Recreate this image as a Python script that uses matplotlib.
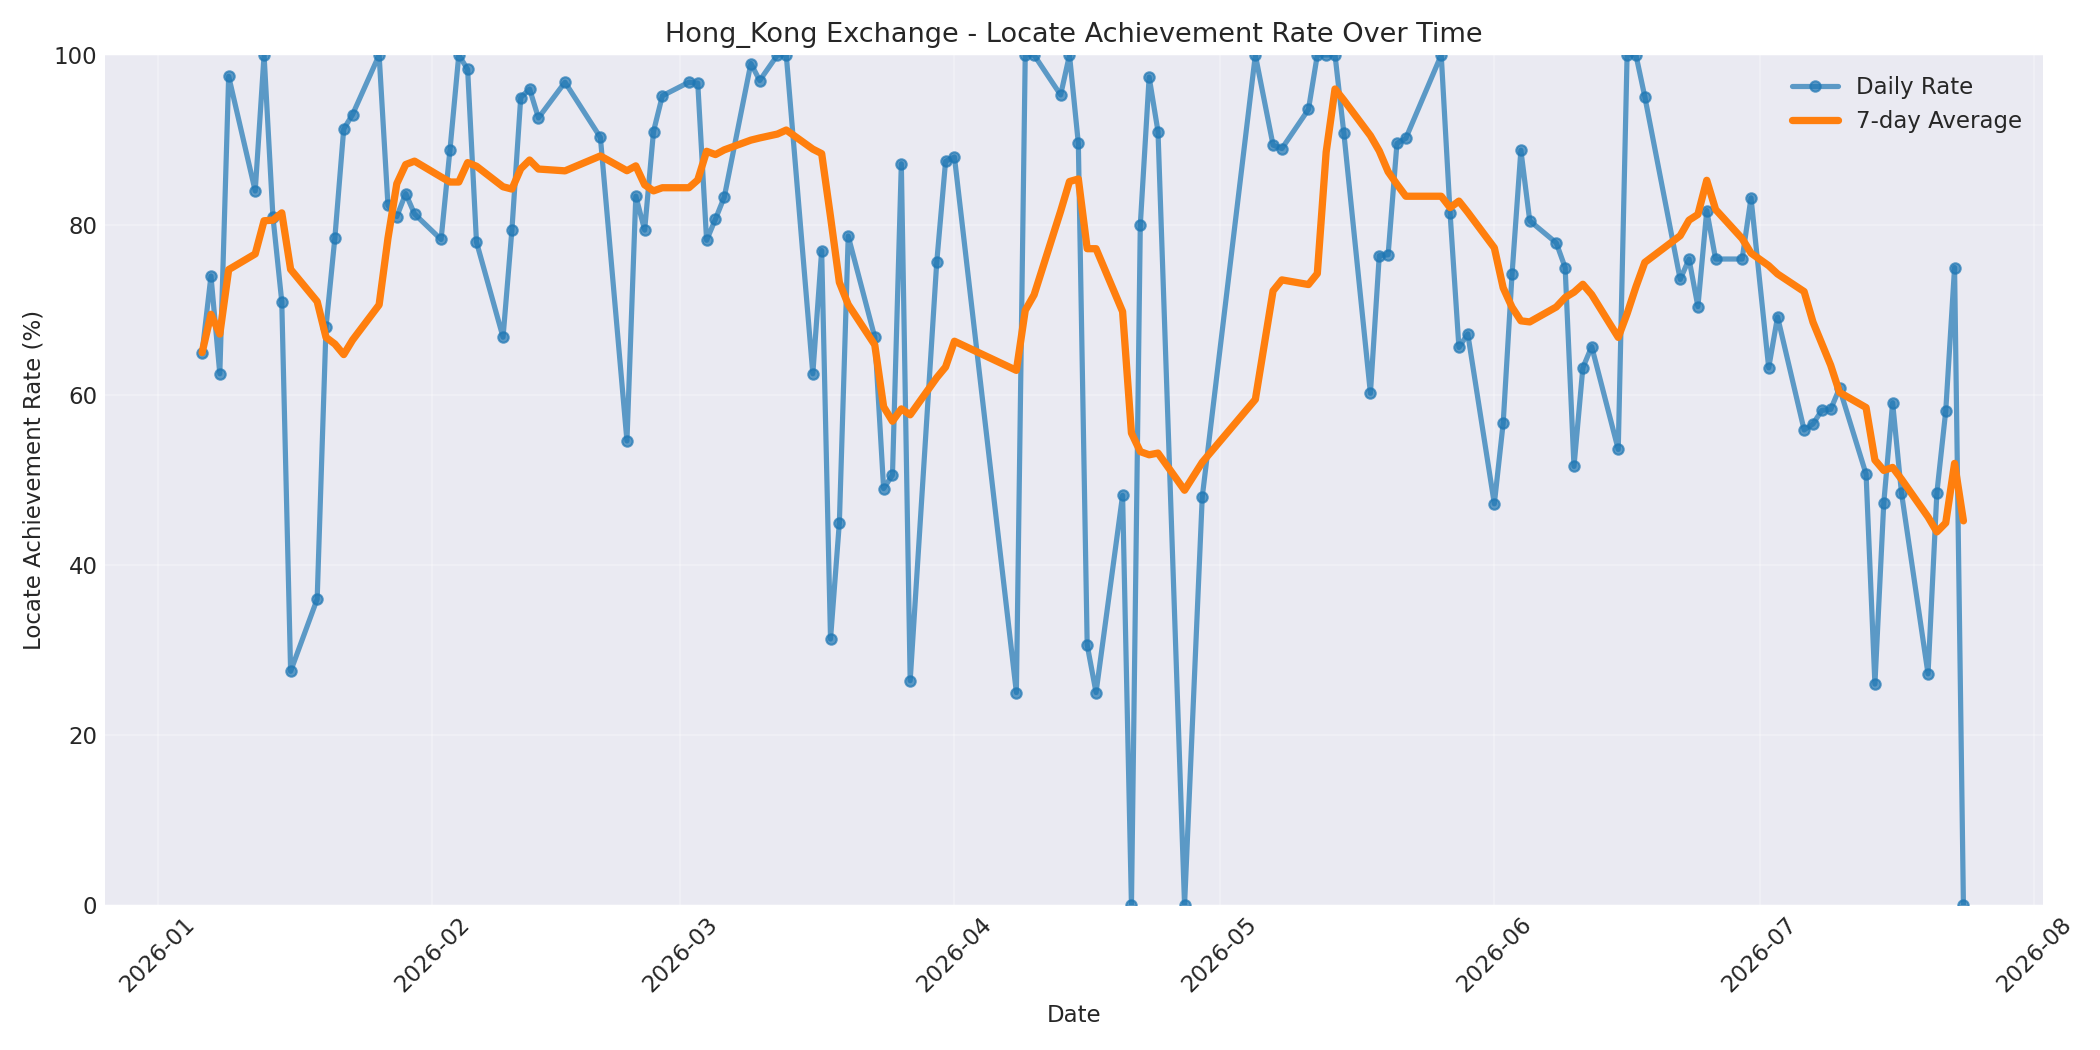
import pandas as pd
import matplotlib.pyplot as plt

plt.style.use("seaborn-v0_8-darkgrid")
plt.rcParams["font.family"] = "DejaVu Sans"

dates = [
    "2026-01-06", "2026-01-07", "2026-01-08", "2026-01-09",
    "2026-01-12", "2026-01-13", "2026-01-14", "2026-01-15", "2026-01-16",
    "2026-01-19", "2026-01-20", "2026-01-21", "2026-01-22", "2026-01-23",
    "2026-01-26", "2026-01-27", "2026-01-28", "2026-01-29", "2026-01-30",
    "2026-02-02", "2026-02-03", "2026-02-04", "2026-02-05", "2026-02-06",
    "2026-02-09", "2026-02-10", "2026-02-11", "2026-02-12", "2026-02-13",
    "2026-02-16", "2026-02-20",
    "2026-02-23", "2026-02-24", "2026-02-25", "2026-02-26", "2026-02-27",
    "2026-03-02", "2026-03-03", "2026-03-04", "2026-03-05", "2026-03-06",
    "2026-03-09", "2026-03-10", "2026-03-12", "2026-03-13",
    "2026-03-16", "2026-03-17", "2026-03-18", "2026-03-19", "2026-03-20",
    "2026-03-23", "2026-03-24", "2026-03-25", "2026-03-26", "2026-03-27",
    "2026-03-30", "2026-03-31", "2026-04-01",
    "2026-04-08", "2026-04-09", "2026-04-10",
    "2026-04-13", "2026-04-14", "2026-04-15", "2026-04-16", "2026-04-17",
    "2026-04-20", "2026-04-21", "2026-04-22", "2026-04-23", "2026-04-24",
    "2026-04-27", "2026-04-29",
    "2026-05-05", "2026-05-07", "2026-05-08",
    "2026-05-11", "2026-05-12", "2026-05-13", "2026-05-14", "2026-05-15",
    "2026-05-18", "2026-05-19", "2026-05-20", "2026-05-21", "2026-05-22",
    "2026-05-26", "2026-05-27", "2026-05-28", "2026-05-29",
    "2026-06-01", "2026-06-02", "2026-06-03", "2026-06-04", "2026-06-05",
    "2026-06-08", "2026-06-09", "2026-06-10", "2026-06-11", "2026-06-12",
    "2026-06-15", "2026-06-16", "2026-06-17", "2026-06-18",
    "2026-06-22", "2026-06-23", "2026-06-24", "2026-06-25", "2026-06-26",
    "2026-06-29", "2026-06-30", "2026-07-02", "2026-07-03",
    "2026-07-06", "2026-07-07", "2026-07-08", "2026-07-09", "2026-07-10",
    "2026-07-13", "2026-07-14", "2026-07-15", "2026-07-16", "2026-07-17",
    "2026-07-20", "2026-07-21", "2026-07-22", "2026-07-23", "2026-07-24",
]
rates = [
    65, 74, 62.5, 97.5,
    84, 100, 81, 71, 27.5,
    36, 68, 78.5, 91.3, 93,
    100, 82.3, 81, 83.7, 81.3,
    78.3, 88.8, 100, 98.3, 78,
    66.8, 79.4, 95, 96, 92.6,
    96.8, 90.3,
    54.6, 83.4, 79.4, 91, 95.2,
    96.8, 96.7, 78.2, 80.7, 83.3,
    99, 97, 100, 100,
    62.5, 77, 31.3, 45, 78.7,
    66.8, 49, 50.6, 87.2, 26.4,
    75.6, 87.5, 88,
    25, 100, 100,
    95.3, 100, 89.6, 30.6, 25,
    48.2, 0, 80, 97.4, 91,
    0, 48,
    100, 89.4, 89,
    93.6, 100, 100, 100, 90.8,
    60.2, 76.4, 76.5, 89.6, 90.2,
    100, 81.4, 65.6, 67.2,
    47.2, 56.7, 74.2, 88.8, 80.5,
    77.9, 75, 51.6, 63.2, 65.7,
    53.6, 100, 100, 95.1,
    73.6, 76, 70.4, 81.7, 76,
    76, 83.2, 63.2, 69.2,
    55.9, 56.6, 58.2, 58.3, 60.8,
    50.7, 26, 47.3, 59.1, 48.5,
    27.2, 48.5, 58.1, 75, 0,
]

s = pd.Series(rates, index=pd.to_datetime(dates))
avg = s.rolling(7, min_periods=1).mean()

fig, ax = plt.subplots(figsize=(14, 7), dpi=150)
ax.plot(s.index, s.values, "o-", color="#1f77b4", alpha=0.7, lw=2.5, ms=5, label="Daily Rate")
ax.plot(avg.index, avg.values, "-", color="#ff7f0e", lw=3.5, label="7-day Average")
ax.set_ylim(0, 100)
ax.set_xlim(pd.Timestamp("2025-12-26"), pd.Timestamp("2026-08-02"))
ax.grid(True, alpha=0.3)
ax.set_title("Hong_Kong Exchange - Locate Achievement Rate Over Time", fontsize=13)
ax.set_xlabel("Date", fontsize=11)
ax.set_ylabel("Locate Achievement Rate (%)", fontsize=11)
ax.tick_params(labelsize=11)
plt.setp(ax.get_xticklabels(), rotation=45)
ax.legend(fontsize=11)
plt.tight_layout()
plt.savefig("out.png")
